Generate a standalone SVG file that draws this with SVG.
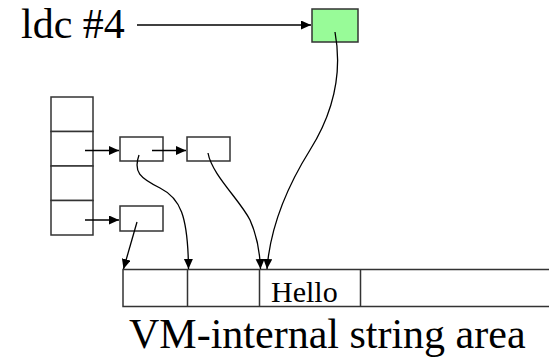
<svg xmlns="http://www.w3.org/2000/svg" width="549" height="361" viewBox="0 0 549 361">
<style>
.box{fill:#fff;stroke:#333;stroke-width:1.5}
.cell{fill:none;stroke:#333;stroke-width:1.5}
.con{fill:none;stroke:#000;stroke-width:1.3;marker-end:url(#ah)}
.big{font-family:"Liberation Serif","Times New Roman",serif;font-size:42px;fill:#000}
.small{font-family:"Liberation Serif","Times New Roman",serif;font-size:30px;fill:#000}
</style>
<defs>
<marker id="ah" markerUnits="userSpaceOnUse" markerWidth="11" markerHeight="10" refX="10" refY="4.5" orient="auto">
<path d="M0,0 L10,4.5 L0,9 z" fill="#000"/>
</marker>
</defs>
<rect width="549" height="361" fill="#fff"/>
<g id="label-ldc"><text class="big" x="21" y="38">ldc #4</text></g>
<g id="const-entry"><rect x="312" y="9" width="46" height="33" fill="#98fb98" stroke="#333" stroke-width="1.5"/></g>
<g id="table">
<rect class="box" x="51" y="97" width="42" height="34.5"/>
<rect class="box" x="51" y="131.5" width="42" height="34.5"/>
<rect class="box" x="51" y="166" width="42" height="34.5"/>
<rect class="box" x="51" y="200.5" width="42" height="34.5"/>
</g>
<g id="boxA"><rect class="box" x="120" y="137" width="43" height="24"/></g>
<g id="boxB"><rect class="box" x="187" y="137" width="43" height="24"/></g>
<g id="boxC"><rect class="box" x="120" y="206" width="43" height="25"/></g>
<g id="string-area">
<path class="cell" d="M549,269.5 H123 V306.5 H549 M187.5,269.5 V306.5 M259.5,269.5 V306.5 M360.5,269.5 V306.5"/>
<text class="small" x="271" y="302">Hello</text>
</g>
<g id="label-vm"><text class="big" x="129" y="348">VM-internal string area</text></g>
<g id="connectors">
<path class="con" d="M137,25 H311"/>
<path class="con" d="M85,150.5 H119"/>
<path class="con" d="M152,150.5 H186"/>
<path class="con" d="M85,220 H119"/>
<path class="con" d="M137,222 L123.5,269"/>
<path class="con" d="M139,155 C133,172 140,178 160,188 C180,198 188,215 188.5,269"/>
<path class="con" d="M208,153 C212,175 240,200 250,220 C258,238 260,255 260.5,269"/>
<path class="con" d="M335,32 C342,70 335,110 310,150 C285,190 270,230 267,269"/>
</g>
</svg>
